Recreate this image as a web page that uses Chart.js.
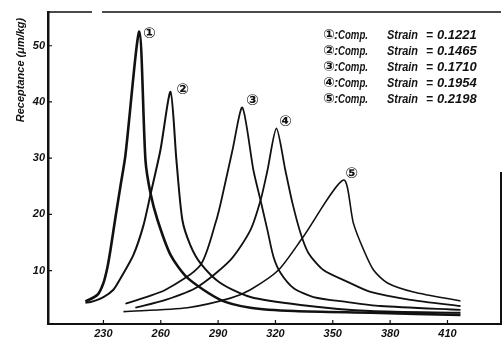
<!DOCTYPE html>
<html>
<head>
<meta charset="utf-8">
<script src="https://cdn.jsdelivr.net/npm/chart.js@4.4.1/dist/chart.umd.min.js"></script>
<style>
  html, body { margin: 0; padding: 0; background: #fff; }
</style>
</head>
<body>
<canvas id="receptanceChart" width="504" height="338"></canvas>
<script>
// Frequency (x) and receptance (y)
const freq1 = [220.6, 226.9, 230.0, 232.1, 233.7, 236.3, 238.9, 241.5, 248.8, 252.0, 254.6, 258.3, 265.1, 274.0, 291.2, 306.9, 330.0, 369.7, 416.8];
const rec1  = [4.5, 5.7, 7.8, 10.6, 13.7, 19.5, 25.0, 30.5, 52.5, 29.6, 23.8, 19.0, 12.8, 8.7, 4.8, 3.4, 2.8, 2.5, 2.1];

const freq2 = [220.6, 223.2, 230.0, 235.2, 238.9, 245.7, 250.9, 254.6, 259.8, 265.1, 268.2, 271.3, 275.5, 280.8, 291.2, 306.9, 333.1, 369.7, 416.8];
const rec2  = [4.3, 4.4, 5.3, 6.6, 8.6, 12.8, 18.0, 23.5, 31.4, 41.8, 29.6, 19.0, 14.5, 11.3, 7.8, 5.3, 3.9, 2.8, 2.5];

const freq3 = [241.5, 262.5, 280.8, 289.1, 291.7, 297.5, 302.7, 308.5, 312.2, 315.8, 319.0, 322.6, 329.4, 339.9, 357.7, 374.9, 416.8];
const rec3  = [4.1, 6.6, 11.0, 19.0, 22.5, 31.4, 39.0, 27.8, 22.5, 17.2, 12.4, 9.6, 6.9, 5.3, 4.4, 3.7, 3.0];

const freq4 = [246.7, 262.5, 279.2, 296.5, 306.9, 312.2, 315.8, 320.5, 325.2, 328.9, 333.1, 337.3, 345.1, 357.7, 369.7, 390.6, 416.8];
const rec4  = [3.4, 4.8, 7.1, 11.9, 17.2, 22.5, 27.8, 35.3, 27.8, 22.0, 16.7, 13.1, 10.1, 8.0, 6.2, 4.8, 3.7];

const freq5 = [240.5, 274.0, 296.5, 306.9, 321.6, 334.1, 355.6, 360.8, 366.1, 371.3, 378.6, 392.2, 416.8];
const rec5  = [2.7, 3.4, 5.1, 6.6, 10.1, 15.8, 26.1, 18.4, 13.7, 10.1, 7.8, 6.2, 4.6];

const strains = ['0.1221', '0.1465', '0.1710', '0.1954', '0.2198'];
const marks = ['\u2460', '\u2461', '\u2462', '\u2463', '\u2464'];
const xTicks = [230, 260, 290, 320, 350, 380, 410];
const yTicks = [10, 20, 30, 40, 50];

const ink = '#111';
const textFont = "'Liberation Sans', Arial, sans-serif";
const markFont = "'DejaVu Sans', 'Noto Sans CJK JP', sans-serif";

const curves = [
    { f: freq1, r: rec1, w: 2.6 },
    { f: freq2, r: rec2, w: 2.0 },
    { f: freq3, r: rec3, w: 1.8 },
    { f: freq4, r: rec4, w: 1.8 },
    { f: freq5, r: rec5, w: 1.6 }
];

// offsets of the circled numbers from each peak, in pixels
const peakLabelOffset = [[10, 2], [12, -2], [10, -6], [9, -6], [8, -6]];

const annotate = {
    id: 'annotate',
    afterDraw(chart) {
        const { ctx, chartArea: a, scales: { x, y } } = chart;
        ctx.save();
        ctx.strokeStyle = ink;
        ctx.fillStyle = ink;

        // top frame (with a small break) and partial right frame
        ctx.lineWidth = 1.5;
        ctx.beginPath();
        ctx.moveTo(a.left, a.top); ctx.lineTo(92, a.top);
        ctx.moveTo(102, a.top); ctx.lineTo(a.right, a.top);
        ctx.stroke();
        ctx.lineWidth = 2;
        ctx.beginPath();
        ctx.moveTo(a.right, 172); ctx.lineTo(a.right, a.bottom);
        ctx.stroke();

        // tick marks pointing into the plot
        ctx.lineWidth = 1.2;
        ctx.beginPath();
        xTicks.forEach(v => {
            const px = x.getPixelForValue(v);
            ctx.moveTo(px, a.bottom); ctx.lineTo(px, a.bottom - 4);
        });
        yTicks.forEach(v => {
            const py = y.getPixelForValue(v);
            ctx.moveTo(a.left, py); ctx.lineTo(a.left + 4, py);
        });
        ctx.stroke();

        // y axis title, rotated, near the top
        ctx.save();
        ctx.translate(21, 70);
        ctx.rotate(-Math.PI / 2);
        ctx.font = 'italic bold 11px ' + textFont;
        ctx.textAlign = 'center';
        ctx.textBaseline = 'middle';
        ctx.fillText('Receptance (\u03bcm/kg)', 0, 0, 114);
        ctx.restore();

        // circled numbers at the peaks
        ctx.font = 'bold 15px ' + markFont;
        ctx.textAlign = 'center';
        ctx.textBaseline = 'middle';
        curves.forEach((c, i) => {
            const k = c.r.indexOf(Math.max(...c.r));
            const px = x.getPixelForValue(c.f[k]) + peakLabelOffset[i][0];
            const py = y.getPixelForValue(c.r[k]) + peakLabelOffset[i][1];
            ctx.fillText(marks[i], px, py);
        });

        // key in the top right corner
        ctx.textAlign = 'left';
        ctx.textBaseline = 'alphabetic';
        strains.forEach((s, i) => {
            const ty = 39 + i * 16;
            ctx.font = 'bold 14px ' + markFont;
            ctx.fillText(marks[i], 323, ty);
            ctx.font = 'italic bold 13px ' + textFont;
            ctx.fillText(':', 334, ty);
            ctx.fillText('Comp.', 338, ty, 30);
            ctx.fillText('Strain', 387, ty, 31);
            ctx.fillText('=', 426, ty, 7);
            ctx.fillText(s, 437, ty, 46);
        });
        ctx.restore();
    }
};

const tickFont = { family: textFont, size: 11, style: 'italic', weight: 'bold' };

new Chart(document.getElementById('receptanceChart').getContext('2d'), {
    type: 'line',
    data: {
        datasets: curves.map(c => ({
            data: c.f.map((f, j) => ({ x: f, y: c.r[j] })),
            borderColor: ink,
            borderWidth: c.w,
            pointRadius: 0,
            tension: 0.25,
            fill: false
        }))
    },
    options: {
        responsive: false,
        animation: false,
        devicePixelRatio: 1,
        layout: { padding: { top: 12, right: 3, left: 0, bottom: 0 } },
        plugins: {
            legend: { display: false },
            tooltip: { enabled: false }
        },
        scales: {
            x: {
                type: 'linear',
                min: 201,
                max: 438,
                afterBuildTicks: s => { s.ticks = xTicks.map(v => ({ value: v })); },
                afterFit: s => { s.height = 14; },
                grid: { display: false, drawTicks: false },
                border: { color: ink, width: 2 },
                ticks: { color: ink, font: tickFont, padding: 3, maxRotation: 0, autoSkip: false }
            },
            y: {
                min: 0.5,
                max: 56,
                afterBuildTicks: s => { s.ticks = yTicks.map(v => ({ value: v })); },
                afterFit: s => { s.width = 48; },
                grid: { display: false, drawTicks: false },
                border: { color: ink, width: 2.5 },
                ticks: { color: ink, font: tickFont, padding: 3 }
            }
        }
    },
    plugins: [annotate]
});
</script>
</body>
</html>
